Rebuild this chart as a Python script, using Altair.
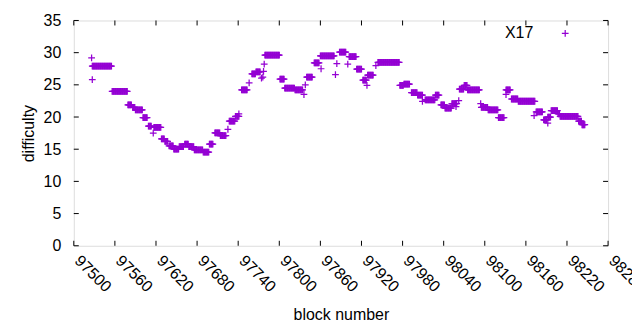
import altair as alt
import pandas as pd

# Runs of consecutive blocks sharing one difficulty
run_start = [97527, 97556, 97579, 97586, 97590, 97601, 97609, 97617, 97628, 97633,
             97639, 97646, 97654, 97662, 97668, 97676, 97689, 97698, 97706, 97714,
             97727, 97736, 97745, 97760, 97766, 97779, 97801, 97808, 97823, 97840,
             97851, 97860, 97888, 97902, 97913, 97922, 97929, 97944, 97976, 97982,
             97993, 98002, 98013, 98028, 98036, 98042, 98052, 98063, 98070, 98075,
             98095, 98105, 98120, 98131, 98139, 98149, 98175, 98186, 98192, 98197,
             98207, 98210, 98237, 98242]
run_end = [97555, 97578, 97584, 97589, 97600, 97607, 97613, 97627, 97632, 97637,
           97645, 97653, 97660, 97667, 97675, 97688, 97697, 97703, 97713, 97722,
           97735, 97741, 97753, 97765, 97772, 97800, 97807, 97822, 97834, 97848,
           97858, 97880, 97897, 97912, 97920, 97927, 97937, 97975, 97981, 97990,
           98001, 98009, 98027, 98033, 98041, 98051, 98059, 98069, 98074, 98092,
           98104, 98119, 98128, 98137, 98148, 98173, 98184, 98190, 98196, 98206,
           98209, 98236, 98241, 98246]
run_diff = [27.9, 24.0, 21.9, 21.5, 21.1, 19.9, 18.6, 18.4, 16.6, 16.2,
            15.5, 15.0, 15.4, 15.8, 15.4, 14.9, 14.55, 15.8, 17.55, 17.1,
            19.35, 20.1, 24.2, 26.7, 27.0, 29.6, 25.9, 24.5, 24.2, 26.2,
            28.4, 29.5, 30.1, 29.4, 27.45, 25.75, 26.5, 28.5, 24.9, 25.1,
            23.8, 23.4, 22.65, 23.4, 21.9, 21.4, 22.1, 24.35, 24.9, 24.2,
            21.5, 21.1, 19.9, 24.2, 22.8, 22.45, 20.8, 19.55, 20.0, 21.0,
            20.5, 20.1, 19.35, 18.8]

# Isolated blocks
single_block = [97526, 97527, 97616, 97725, 97741, 97756, 97774, 97776, 97777, 97778,
                97836, 97838, 97861, 97882, 97884, 97900, 97928, 97941, 98009, 98058,
                98062, 98094, 98131, 98172, 98192]
single_diff = [29.2, 25.8, 17.5, 18.1, 20.5, 25.3, 26.05, 26.2, 27.1, 28.2,
               23.5, 25.0, 27.5, 26.6, 28.3, 28.2, 24.9, 28.0, 22.45, 21.6,
               22.55, 22.1, 23.5, 20.2, 19.05]

x_ticks = list(range(97500, 98281, 60))
y_ticks = list(range(0, 36, 5))

rows = []
for s, e, d in zip(run_start, run_end, run_diff):
    for b in range(s, e + 1):
        rows.append({"block": b, "difficulty": d})
for b, d in zip(single_block, single_diff):
    rows.append({"block": b, "difficulty": d})
df = pd.DataFrame(rows)

W, H = 536, 226
COLOR = "#9400D3"
FONT = "Liberation Sans"
PLUS = "M-1,0H1M0,-1V1"

xs = alt.Scale(domain=[97500, 98280], nice=False, zero=False)
ys = alt.Scale(domain=[0, 35], nice=False)

x_axis = alt.Axis(values=x_ticks, format="d", title="block number", labelAngle=45,
                  labelAlign="left", labelBaseline="middle", labelPadding=12,
                  labelOffset=3, ticks=False, tickSize=0, domain=False,
                  grid=False, labelFont=FONT, labelFontSize=16,
                  labelColor="black", titleFont=FONT, titleFontSize=16,
                  titleFontWeight="normal", titleColor="black",
                  titlePadding=12, labelOverlap=False, labelFlush=False)
y_axis = alt.Axis(values=y_ticks, format="d", title="difficulty", ticks=False,
                  tickSize=0, domain=False, grid=False, labelPadding=13,
                  labelFont=FONT, labelFontSize=16, labelColor="black",
                  labelOverlap=False, labelFlush=False,
                  titleFont=FONT, titleFontSize=16, titleFontWeight="normal",
                  titleColor="black", titlePadding=7)

pts = alt.Chart(df).mark_point(shape=PLUS, filled=False, stroke=COLOR,
                               strokeWidth=1.25, size=46, opacity=1).encode(
    x=alt.X("block:Q", scale=xs, axis=x_axis),
    y=alt.Y("difficulty:Q", scale=ys, axis=y_axis),
)

xt = pd.DataFrame({"t": x_ticks})
yt = pd.DataFrame({"t": y_ticks})
TL = 5
tick_bottom = alt.Chart(xt).mark_rule(color="black", strokeWidth=1).encode(
    x=alt.X("t:Q", scale=xs, axis=x_axis), y=alt.value(H), y2=alt.value(H - TL))
tick_top = alt.Chart(xt).mark_rule(color="black", strokeWidth=1).encode(
    x=alt.X("t:Q", scale=xs, axis=x_axis), y=alt.value(0), y2=alt.value(TL))
tick_left = alt.Chart(yt).mark_rule(color="black", strokeWidth=1).encode(
    y=alt.Y("t:Q", scale=ys, axis=y_axis), x=alt.value(0), x2=alt.value(TL))
tick_right = alt.Chart(yt).mark_rule(color="black", strokeWidth=1).encode(
    y=alt.Y("t:Q", scale=ys, axis=y_axis), x=alt.value(W), x2=alt.value(W - TL))

leg = pd.DataFrame({"name": ["X17"]})
leg_text = alt.Chart(leg).mark_text(align="right", baseline="middle", font=FONT,
                                    fontSize=16, color="black").encode(
    text="name:N", x=alt.value(461), y=alt.value(13))
leg_sym = alt.Chart(leg).mark_point(shape=PLUS, filled=False, stroke=COLOR,
                                    strokeWidth=1.25, size=46, opacity=1).encode(
    x=alt.value(493), y=alt.value(13))

chart = alt.layer(pts, tick_bottom, tick_top, tick_left, tick_right, leg_text, leg_sym).properties(
    width=W, height=H,
    autosize=alt.AutoSizeParams(type="none"),
    padding={"left": 66, "top": 12, "right": 24, "bottom": 84},
).configure_view(stroke="black", strokeWidth=1).configure(background="white")

chart.save("out.html", embed_options={"renderer": "svg", "actions": False})
